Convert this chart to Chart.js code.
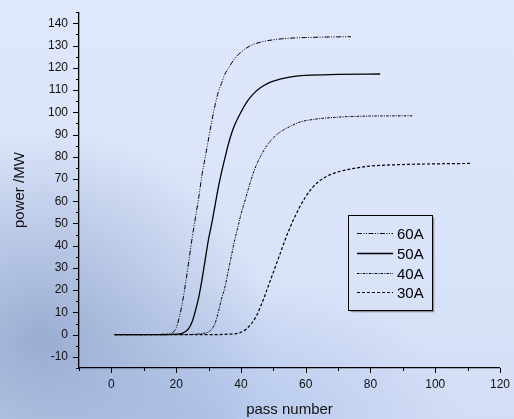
<!DOCTYPE html>
<html>
<head>
<meta charset="utf-8">
<script src="https://cdn.jsdelivr.net/npm/chart.js@4"></script>
<style>
  html, body { margin: 0; padding: 0; }
  body {
    width: 514px; height: 419px; overflow: hidden;
    background:
      radial-gradient(ellipse 230px 210px at 40px 340px, rgba(148,168,206,0.9), rgba(148,168,206,0)),
      radial-gradient(ellipse 260px 140px at 200px 419px, rgba(170,192,232,0.8), rgba(170,192,232,0)),
      linear-gradient(180deg, #dfe7fb 0%, #d9e3f9 60%, #d3ddf5 100%);
  }
  canvas { display: block; }
</style>
</head>
<body>
<canvas id="power" width="514" height="419"></canvas>
<script>
// Daten
const labels = ['60A', '50A', '40A', '30A'];

const pass60 = [1, 10, 15, 18, 19, 20, 21, 22, 23, 24, 25, 26, 27, 28, 29, 30, 31, 32, 33, 34, 35, 36, 38, 40, 43, 46, 50, 55, 60, 65, 74];
const power60 = [0, 0, 0.1, 0.5, 1, 3, 8, 15, 24, 34, 44, 53, 62, 72, 80, 88, 96, 103, 109, 113, 117, 119.5, 124, 127, 130, 131.5, 132.6, 133.3, 133.6, 133.8, 134];

const pass50 = [1, 15, 20, 22, 23, 24, 25, 26, 27, 28, 29, 30, 31, 32, 33, 34, 35, 36, 37, 38, 40, 42, 44, 46, 48, 50, 55, 60, 70, 83];
const power50 = [0, 0, 0.2, 0.7, 1.5, 3, 6, 11, 17, 25, 34, 43, 50, 58, 66, 73, 79, 85, 90, 94, 100, 105, 108.5, 111, 112.8, 114, 115.8, 116.6, 117, 117.2];

const pass40 = [1, 20, 26, 28, 30, 31, 32, 33, 34, 35, 36, 37, 38, 39, 40, 41, 42, 43, 44, 45, 46, 48, 50, 52, 55, 58, 62, 70, 80, 93];
const power40 = [0, 0, 0.2, 0.5, 1.2, 2.5, 5, 10, 16, 21, 28, 35, 42, 48, 54, 59, 64, 69, 73.5, 77, 80, 85, 88.5, 91, 93.5, 95.5, 96.7, 97.8, 98.3, 98.4];

const pass30 = [1, 30, 36, 39, 41, 43, 45, 46, 47, 48, 49, 50, 51, 52, 53, 54, 55, 56, 57, 58, 60, 62, 64, 66, 68, 70, 75, 80, 90, 100, 111];
const power30 = [0, 0, 0.2, 0.6, 1.8, 4.5, 9, 12.5, 16, 20, 24, 28, 32, 36, 40, 44, 47.5, 51, 54, 57, 62, 66, 68.8, 70.8, 72.2, 73.2, 74.8, 75.8, 76.5, 76.8, 77];

const xTicks = [0, 20, 40, 60, 80, 100, 120];
const yTicks = [-10, 0, 10, 20, 30, 40, 50, 60, 70, 80, 90, 100, 110, 120, 130, 140];

const toPoints = (xs, ys) => xs.map((x, i) => ({ x: x, y: ys[i] }));

const font = { family: 'Arial, "Liberation Sans", sans-serif' };

// Tick-Striche selbst zeichnen (Haupt- und Nebenstriche)
const tickMarks = {
  id: 'tickMarks',
  afterDraw(chart) {
    const c = chart.ctx;
    const xs = chart.scales.x, ys = chart.scales.y;
    c.save();
    c.strokeStyle = '#000';
    c.lineWidth = 1;
    c.beginPath();
    for (let v = -10; v <= 120; v += 10) {
      const px = Math.round(xs.getPixelForValue(v)) + 0.5;
      const len = xTicks.includes(v) ? 5 : 3;
      c.moveTo(px, xs.top);
      c.lineTo(px, xs.top + len);
    }
    for (let v = -15; v <= 145; v += 5) {
      const py = Math.round(ys.getPixelForValue(v)) + 0.5;
      const len = yTicks.includes(v) ? 6 : 3;
      c.moveTo(ys.right, py);
      c.lineTo(ys.right - len, py);
    }
    c.stroke();
    c.restore();
  }
};

// Legende im Diagramm (Kasten wie im Original)
const boxLegend = {
  id: 'boxLegend',
  afterDraw(chart) {
    const c = chart.ctx;
    const bx = 348.5, by = 215.5, bw = 84, bh = 95;
    c.save();
    c.strokeStyle = '#8a8f99';
    c.lineWidth = 1.5;
    c.beginPath();
    c.moveTo(bx + bw + 1, by + 2);
    c.lineTo(bx + bw + 1, by + bh + 1);
    c.lineTo(bx + 2, by + bh + 1);
    c.stroke();
    c.strokeStyle = '#000';
    c.lineWidth = 1;
    c.strokeRect(bx, by, bw, bh);
    c.font = '15px Arial, "Liberation Sans", sans-serif';
    c.textBaseline = 'middle';
    c.fillStyle = '#000';
    chart.data.datasets.forEach((ds, i) => {
      const y = Math.round(233 + i * 19.8) + 0.5;
      c.beginPath();
      c.setLineDash(ds.borderDash || []);
      c.lineWidth = ds.borderWidth;
      c.strokeStyle = ds.borderColor;
      c.moveTo(357, y);
      c.lineTo(393, y);
      c.stroke();
      c.setLineDash([]);
      c.fillText(ds.label, 397, y + 1);
    });
    c.restore();
  }
};

new Chart(document.getElementById('power'), {
  type: 'line',
  data: {
    datasets: [
      { label: labels[0], data: toPoints(pass60, power60), borderDash: [5, 1.5, 1, 1.5, 1, 1.5], borderWidth: 1 },
      { label: labels[1], data: toPoints(pass50, power50), borderDash: [], borderWidth: 1.3 },
      { label: labels[2], data: toPoints(pass40, power40), borderDash: [2.5, 1.2, 1, 1.2], borderWidth: 1 },
      { label: labels[3], data: toPoints(pass30, power30), borderDash: [3, 2], borderWidth: 1.2 }
    ].map(ds => Object.assign(ds, {
      borderColor: '#000',
      backgroundColor: '#000',
      pointRadius: 0,
      fill: false,
      cubicInterpolationMode: 'monotone'
    }))
  },
  options: {
    responsive: false,
    animation: false,
    layout: { padding: { left: 0, top: 10, right: 11, bottom: 0 } },
    plugins: {
      legend: { display: false },
      tooltip: { enabled: false }
    },
    scales: {
      x: {
        type: 'linear',
        min: -10,
        max: 120,
        afterFit: s => { s.height = 51; },
        grid: { drawOnChartArea: false, tickLength: 5, tickColor: 'rgba(0,0,0,0)' },
        border: { color: '#000', width: 1.3 },
        ticks: {
          stepSize: 10,
          autoSkip: false,
          maxRotation: 0,
          padding: 4,
          color: '#111',
          font: Object.assign({ size: 12 }, font),
          callback: v => xTicks.includes(v) ? v : ''
        },
        title: {
          display: true,
          text: 'pass number',
          color: '#111',
          font: Object.assign({ size: 15 }, font),
          padding: { top: 0, bottom: 0 }
        }
      },
      y: {
        min: -15,
        max: 145,
        afterFit: s => { s.width = 79; },
        grid: { drawOnChartArea: false, tickLength: 6, tickColor: 'rgba(0,0,0,0)' },
        border: { color: '#000', width: 1.3 },
        ticks: {
          stepSize: 5,
          autoSkip: false,
          padding: 5,
          color: '#111',
          font: Object.assign({ size: 12 }, font),
          callback: v => yTicks.includes(v) ? v : ''
        },
        title: {
          display: true,
          text: 'power /MW',
          color: '#111',
          font: Object.assign({ size: 15 }, font),
          padding: { top: 11, bottom: 0 }
        }
      }
    }
  },
  plugins: [tickMarks, boxLegend]
});
</script>
</body>
</html>
